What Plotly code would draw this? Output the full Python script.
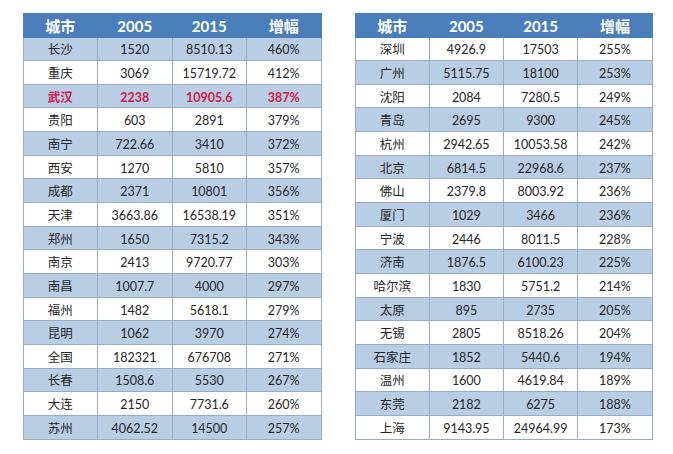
import plotly.graph_objects as go

headers = ["城市", "2005", "2015", "增幅"]

left_cities = ["长沙", "重庆", "武汉", "贵阳", "南宁", "西安", "成都", "天津", "郑州",
               "南京", "南昌", "福州", "昆明", "全国", "长春", "大连", "苏州"]
left_2005 = ["1520", "3069", "2238", "603", "722.66", "1270", "2371", "3663.86", "1650",
             "2413", "1007.7", "1482", "1062", "182321", "1508.6", "2150", "4062.52"]
left_2015 = ["8510.13", "15719.72", "10905.6", "2891", "3410", "5810", "10801", "16538.19", "7315.2",
             "9720.77", "4000", "5618.1", "3970", "676708", "5530", "7731.6", "14500"]
left_growth = [460, 412, 387, 379, 372, 357, 356, 351, 343, 303, 297, 279, 274, 271, 267, 260, 257]

right_cities = ["深圳", "广州", "沈阳", "青岛", "杭州", "北京", "佛山", "厦门", "宁波",
                "济南", "哈尔滨", "太原", "无锡", "石家庄", "温州", "东莞", "上海"]
right_2005 = ["4926.9", "5115.75", "2084", "2695", "2942.65", "6814.5", "2379.8", "1029", "2446",
              "1876.5", "1830", "895", "2805", "1852", "1600", "2182", "9143.95"]
right_2015 = ["17503", "18100", "7280.5", "9300", "10053.58", "22968.6", "8003.92", "3466", "8011.5",
              "6100.23", "5751.2", "2735", "8518.26", "5440.6", "4619.84", "6275", "24964.99"]
right_growth = [255, 253, 249, 245, 242, 237, 236, 236, 228, 225, 214, 205, 204, 194, 189, 188, 173]

highlight_city = "武汉"

HEADER_BLUE = "#4A7EBB"
ROW_BLUE = "#B9CDE5"
WHITE = "#FFFFFF"
RED = "#D0204A"
TEXT = "#262626"
LINE = "#98ABC6"
FONT = "Lato, Noto Sans CJK SC, sans-serif"

W, H = 673, 454
OFF = 8  # page body margin around the figure


def build_table(cities, v2005, v2015, growth, blue_first, x0, x1, cell_h):
    n = len(cities)
    cols = [list(cities), list(v2005), list(v2015), [f"{g}%" for g in growth]]
    fills = []
    for i in range(n):
        is_blue = (i % 2 == 0) if blue_first else (i % 2 == 1)
        fills.append(ROW_BLUE if is_blue else WHITE)
    colors = [RED if c == highlight_city else TEXT for c in cities]
    return go.Table(
        domain=dict(x=[(x0 - OFF) / W, (x1 - OFF) / W],
                    y=[1 - (441 - OFF) / H, 1 - (13 - OFF) / H]),
        columnwidth=[1, 1, 1, 1],
        header=dict(
            values=headers,
            fill_color=HEADER_BLUE,
            line=dict(color=HEADER_BLUE, width=1),
            font=dict(color="white", size=15, family=FONT, weight=700),
            align="center",
            height=24,
        ),
        cells=dict(
            values=cols,
            fill_color=[fills] * 4,
            line=dict(color=LINE, width=1),
            font=dict(color=[colors] * 4, size=12.5, family=FONT),
            align="center",
            height=cell_h,
        ),
    )


fig = go.Figure()
fig.add_trace(build_table(left_cities, left_2005, left_2015, left_growth, True,
                          23, 321, 23.65))
fig.add_trace(build_table(right_cities, right_2005, right_2015, right_growth, False,
                          355, 652, 23.65))

# per-cell bold weight for the highlighted row (plotly.js accepts 2D font arrays)
for k, cities in enumerate([left_cities, right_cities]):
    weights = [700 if c == highlight_city else 400 for c in cities]
    fig._data[k]["cells"]["font"]["weight"] = [weights] * 4

fig.update_layout(
    width=W, height=H,
    margin=dict(l=0, r=0, t=0, b=0),
    paper_bgcolor="white",
    plot_bgcolor="white",
)

fig.write_html("out.html")
